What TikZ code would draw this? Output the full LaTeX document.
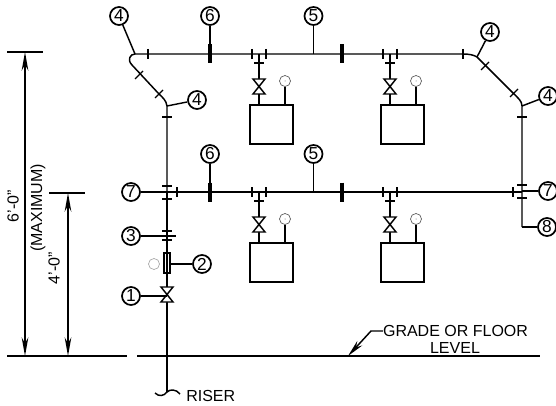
\documentclass[tikz,border=0pt]{standalone}
\usepackage{fontspec}
\setmainfont{Liberation Sans}
\usetikzlibrary{arrows.meta}
\tikzset{
    pipeline/.style={line width=1.1pt},
    leader/.style={line width=1.1pt},
    thin tick/.style={line width=0.9pt},
    thick tick/.style={line width=2.4pt},
    bubble/.style={draw,circle,line width=1.3pt,minimum size=13.5pt,inner sep=0pt,font=\fontsize{13}{13}\selectfont},
    gauge/.style={draw=black!65,circle,line width=0.5pt,minimum size=8.25pt,inner sep=0pt},
    tank/.style={draw,line width=1.1pt,minimum width=32.25pt,minimum height=29.25pt,inner sep=0pt},
    cadtext/.style={font=\fontsize{12}{12}\selectfont,inner sep=0pt},
    dimline/.style={line width=1pt,{Stealth[length=14pt,width=5pt]}-{Stealth[length=14pt,width=5pt]}}
}
\begin{document}
\begin{tikzpicture}[x=0.75pt,y=-0.75pt]
    \useasboundingbox (0,0) rectangle (556,406);

    % Header pipes
    \coordinate (elbowa) at (135,54);
    \coordinate (elbowb) at (167,106);
    \coordinate (elbowc) at (477,57);
    \coordinate (elbowd) at (522,106);
    \coordinate (headl) at (167,192);
    \coordinate (headr) at (522,192);
    \coordinate (drain) at (522,227);
    \draw[pipeline] (headl) -- (elbowb) .. controls (166,100) and (163,98) .. (159,94) -- (132,65)
        .. controls (127,60) and (130,54) .. (elbowa) -- (463,54)
        .. controls (469,54) and (474,55) .. (elbowc) -- (513,93)
        .. controls (518,98) and (522,101) .. (elbowd) -- (headr) -- (drain);
    \draw[pipeline] (headl) -- (headr);

    % Branches off the headers
    \foreach \i in {0,1} {
        \foreach \j in {0,1} {
            \begin{scope}[shift={(\j*131, \i*138)}]
                \node[tank] (box\i\j) at (271.5,124.5) {};
                \node[gauge] (gg\i\j) at (285,81) {};
                \fill[black!65] (gg\i\j) circle (0.5);
                \coordinate (top\i\j) at (259,54);
                \coordinate (low\i\j) at (259,105);
                \coordinate (gb\i\j) at (285,105);
                \draw[pipeline] (top\i\j) -- (low\i\j);
                \draw[pipeline] (gg\i\j) -- (gb\i\j);
                % Valve
                \draw[pipeline,fill=white] (253,79) -- (265,79) -- (253,94) -- (265,94) -- cycle;
                % Union ticks
                \draw[thin tick] (252,49) -- (252,59);
                \draw[thin tick] (266,49) -- (266,59);
                \draw[thin tick] (254,63) -- (264,63);
            \end{scope}
        }
    }

    % Upper and lower leaders
    \foreach \i/\yy in {0/54,1/192} {
        \pgfmathsetmacro{\yb}{\yy-38}
        \node[bubble] (six\i) at (210,\yb) {6};
        \node[bubble] (five\i) at (313.5,\yb) {5};
        \coordinate (sixe\i) at (210,\yy);
        \coordinate (fivee\i) at (313.5,\yy);
        \draw[leader] (six\i) -- (sixe\i);
        \draw[leader] (five\i) -- (fivee\i);
        \draw[thick tick] (210,\yy-9.5) -- (210,\yy+9.5);
        \draw[thick tick] (342,\yy-9.5) -- (342,\yy+9.5);
    }

    % Elbow bubbles
    \node[bubble] (foura) at (119,16) {4};
    \node[bubble] (fourb) at (197,100) {4};
    \node[bubble] (fourc) at (490,32) {4};
    \node[bubble] (fourd) at (548,96) {4};
    \draw[leader] (foura) -- (elbowa);
    \draw[leader] (fourb) -- (elbowb);
    \draw[leader] (fourc) -- (elbowc);
    \draw[leader] (fourd) -- (elbowd);

    % Fitting ticks
    \foreach \x/\y in {148/54,177/192,463/54,513/192}
        \draw[thin tick] (\x,\y-5) -- (\x,\y+5);
    \foreach \x/\y in {167/117,167/186,167/199,167/231,167/240,522/117,522/185,522/198}
        \draw[thin tick] (\x-5,\y) -- (\x+5,\y);
    \foreach \x/\y in {139/75,159/94}
        \draw[thin tick] (\x-4,\y+4) -- (\x+4,\y-4);
    \foreach \x/\y in {485/66,514/93}
        \draw[thin tick] (\x-4,\y+4) -- (\x+4,\y-4);

    % Right side bubbles
    \node[bubble] (sevenr) at (548,191) {7};
    \node[bubble] (eight) at (547,227) {8};
    \coordinate (sevenre) at (522,191);
    \draw[leader] (sevenr) -- (sevenre);
    \draw[leader] (eight) -- (drain);

    % Riser with its fittings
    \coordinate (rtop) at (167,192);
    \coordinate (rbot) at (167,392);
    \draw[pipeline] (rtop) -- (rbot);
    \draw[pipeline] (155,393) .. controls (159,397) and (164,396) .. (rbot)
        .. controls (170,389) and (176,389) .. (180,394);
    \draw[pipeline,fill=white] (164,253) rectangle (170,273);
    \draw[pipeline,fill=white] (161,287) -- (173,287) -- (161,302) -- (173,302) -- cycle;
    \draw[thin tick] (167,253) -- (167,273);
    \node[gauge,draw=black!35] (ggr) at (154,264) {};

    \node[bubble] (seven) at (131,192) {7};
    \node[bubble] (three) at (131,236) {3};
    \node[bubble] (two) at (202,264) {2};
    \node[bubble] (one) at (131,296) {1};
    \coordinate (sevene) at (167,192);
    \coordinate (threee) at (176,236);
    \coordinate (twoe) at (170,264);
    \coordinate (onee) at (167,296);
    \draw[leader] (seven) -- (sevene);
    \draw[leader] (three) -- (threee);
    \draw[leader] (two) -- (twoe);
    \draw[leader] (one) -- (onee);
    \node[cadtext,anchor=west] (riser) at (186,396) {RISER};

    % Grade line and its note
    \coordinate (grl) at (137,356);
    \coordinate (grr) at (540,356);
    \coordinate (gral) at (7,356);
    \coordinate (grar) at (127,356);
    \draw[pipeline] (grl) -- (grr);
    \draw[pipeline] (gral) -- (grar);
    \node[cadtext] (grade) at (455.5,331) {GRADE OR FLOOR};
    \node[cadtext] (level) at (455,347.5) {LEVEL};
    \coordinate (gradek) at (371,331);
    \coordinate (gradet) at (348,356);
    \draw[leader,-{Stealth[length=13pt,width=5pt]}] (grade.west) -- (gradek) -- (gradet);

    % Heights
    \coordinate (sixa) at (7,52);
    \coordinate (sixb) at (43,52);
    \coordinate (foura2) at (49,193);
    \coordinate (fourb2) at (85,193);
    \coordinate (dimsixt) at (25,52);
    \coordinate (dimsixb) at (25,356);
    \coordinate (dimfourt) at (68,193);
    \coordinate (dimfourb) at (68,356);
    \draw[pipeline] (sixa) -- (sixb);
    \draw[pipeline] (foura2) -- (fourb2);
    \draw[dimline] (dimsixt) -- (dimsixb);
    \draw[dimline] (dimfourt) -- (dimfourb);
    \node[cadtext,rotate=90] (txtsix) at (13,206) {6'-0"};
    \node[cadtext,rotate=90] (txtmax) at (38,208) {(MAXIMUM)};
    \node[cadtext,rotate=90] (txtfour) at (54,268) {4'-0"};
\end{tikzpicture}
\end{document}
